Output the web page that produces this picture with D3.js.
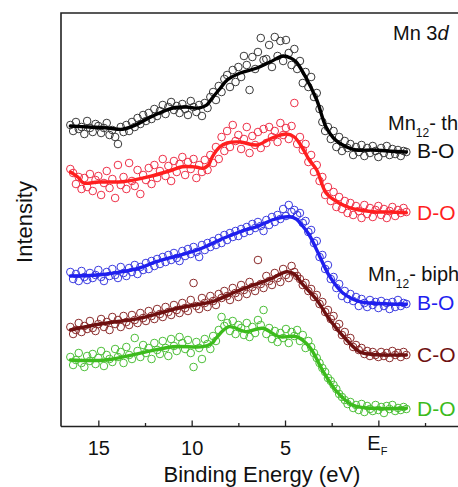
<!DOCTYPE html>
<html>
<head>
<meta charset="utf-8">
<script src="https://cdn.jsdelivr.net/npm/d3@7/dist/d3.min.js"></script>
<style>
  html, body { margin: 0; padding: 0; background: #fff; }
  svg { display: block; font-family: "Liberation Sans", Arial, Helvetica, sans-serif; }
</style>
</head>
<body>
<svg id="chart" width="458" height="487"></svg>
<script>
// Mn 3d valence-band photoemission spectra (intensity in arbitrary units, stacked).

// measured binding-energy grid (eV), 0.15 eV steps
const energies = d3.range(0, 121).map(i => +(16.5 - 0.15 * i).toFixed(2));

// raw counts per spectrum (offset for stacking)
const thBO = [
  302,296,305,298,300,293,306,299,295,303,
  301,294,299,304,292,297,290,283,300,295,
  302,296,305,300,309,303,312,306,314,308,
  318,311,316,322,313,320,325,317,321,314,
  323,318,312,326,320,315,322,311,324,319,
  330,335,327,341,335,348,352,340,357,345,
  360,350,371,362,337,370,358,375,389,367,
  368,382,360,390,371,386,366,387,374,362,
  378,358,366,344,355,340,350,330,334,318,
  305,296,300,288,296,280,290,276,286,279,
  283,272,280,275,282,271,279,274,281,276,
  270,279,274,281,272,278,273,277,271,276,275
];
const thDO = [
  258,254,243,250,238,249,240,253,236,247,
  251,232,244,256,239,248,229,262,242,250,
  238,264,246,241,257,233,252,247,259,243,
  262,249,256,268,251,261,246,266,255,263,
  270,252,265,258,268,249,262,255,267,257,
  272,264,280,268,290,276,296,280,302,286,
  292,278,288,300,274,291,282,295,279,298,
  284,300,290,296,285,304,292,299,288,301,
  324,283,290,277,283,265,272,255,262,246,
  250,232,240,226,235,220,230,218,226,214,
  224,212,221,216,209,222,213,219,210,217,
  221,212,218,209,216,220,211,217,214,219,215
];
const biBO = [
  155,148,153,146,156,150,147,154,149,152,
  157,150,146,155,151,158,152,149,160,154,
  151,159,155,162,153,160,157,164,158,166,
  161,168,163,170,165,172,167,174,169,166,
  176,171,178,173,180,175,170,182,177,184,
  180,186,182,189,184,192,187,194,190,196,
  191,198,194,200,196,203,199,205,201,196,
  207,202,210,205,212,208,218,211,222,215,
  217,212,214,204,206,195,197,184,186,170,
  172,158,162,148,150,139,143,131,136,128,
  133,126,130,121,128,124,120,127,122,125,
  119,126,121,124,118,125,120,127,121,124,123
];
const biCO = [
  100,93,97,104,95,101,98,106,99,96,
  103,108,100,105,97,110,103,107,100,111,
  105,102,112,107,104,114,109,106,116,111,
  108,118,113,110,120,115,112,122,117,114,
  124,119,116,127,144,121,118,129,124,120,
  131,126,122,133,129,136,131,127,139,134,
  130,142,137,133,145,140,136,167,143,139,
  151,146,142,154,149,145,158,152,149,161,
  155,151,148,142,144,136,138,130,132,123,
  125,115,117,108,111,100,103,92,95,86,
  89,80,82,77,79,73,76,71,75,72,
  70,75,71,74,69,76,72,74,70,75,72
];
const biDO = [
  70,62,67,74,64,60,71,66,73,63,
  69,76,61,72,68,65,78,70,75,64,
  80,72,68,89,76,70,82,74,79,68,
  84,77,73,86,79,71,88,81,76,90,
  84,78,87,74,60,85,79,68,88,83,
  78,91,86,97,110,101,104,96,106,93,
  102,99,92,104,90,100,94,107,102,117,
  93,99,88,96,85,94,89,98,84,95,
  91,97,86,92,79,86,80,74,69,64,
  59,55,49,46,42,38,33,30,27,23,
  25,19,22,17,23,15,21,18,16,22,
  17,20,14,21,18,22,16,19,17,20,18
];

// smoothed fits: [binding energy, intensity]
const fitThBO = [[16.5,301],[15.5,300],[14.5,299],[13.7,297.7],[13,302],[12.3,309],[11.6,315],[11,319],[10.3,320],[9.6,319],[9.2,322],[8.9,329],[8.5,338],[8.1,347],[7.4,354],[6.5,359],[5.8,365],[5.1,371],[4.7,369],[4.4,365],[3.9,350],[3.3,327],[2.8,300],[2.3,287],[1.7,280],[1.2,277],[0.3,277],[-0.5,276],[-1.5,275]];
const fitThDO = [[16.5,255],[16.1,250],[15.8,244],[15,245],[13.7,245.3],[12.3,250.3],[11.2,256],[10.5,260.3],[9.8,260],[9.4,258.7],[9.1,262],[8.9,270],[8.5,280],[8.1,284],[7.4,285],[6.5,282],[5.7,289],[4.9,293],[4.5,290],[4.1,280],[3.7,267],[3.3,257],[2.8,234],[2.1,224],[1.5,219],[1.0,217],[0.3,215.3],[-0.5,215],[-1.5,214.3]];
const fitBiBO = [[16.5,151],[15,152],[13.7,155.3],[12.8,159],[11.9,165.3],[10.8,171],[9.7,177],[8.3,188.7],[7.3,196],[6.5,200.3],[5.7,207],[4.8,210.3],[4.4,208],[4.1,202],[3.7,192],[3.3,177],[2.6,150.3],[1.9,134],[1.0,125.3],[0,123.5],[-1.5,122.7]];
const fitBiCO = [[16.5,97],[14.9,103],[12.8,108.7],[11.5,115],[10.7,119],[9.5,123],[8.9,125.3],[7.4,137],[5.7,148.7],[4.9,155.3],[4.5,153],[4.1,143.7],[3.3,127],[2.6,107],[1.7,87],[1.0,75.3],[0.3,72.5],[-1.5,72]];
const fitBiDO = [[16.5,67],[14.6,67],[12.8,73.7],[11.0,80.3],[9.4,80.3],[8.9,84],[8.7,88.7],[8.0,100.3],[7.1,95.3],[6.2,98.7],[5.3,90.3],[4.4,90.3],[3.7,80.3],[3.0,57],[2.3,37],[1.4,22],[0.3,18.7],[-1.5,18.7]];

const seriesNames = ["B-O", "D-O", "B-O", "C-O", "D-O"];
const seriesPoints = [thBO, thDO, biBO, biCO, biDO];
const seriesFits = [fitThBO, fitThDO, fitBiBO, fitBiCO, fitBiDO];
const seriesLine = ["#000000", "#ff1f1f", "#1f1fef", "#6e1010", "#3cbb1c"];
const seriesDot  = ["#3a3a3a", "#ee3048", "#3a3ae0", "#8a2a2a", "#4cbf38"];
const seriesText = ["#111111", "#ff1f1f", "#1f1fef", "#6e1010", "#3cbb1c"];

const majorTicks = [15, 10, 5, 0];
const minorTicks = [12.5, 7.5, 2.5, -2.5];

const svg = d3.select("#chart");
const W = 458, H = 487;
const plotLeft = 61, plotTop = 13, axisY = 426.5;

const x = d3.scaleLinear().domain([17, -5]).range([plotLeft, 471.7]);
const y = d3.scaleLinear().domain([0, 414]).range([427, 13]);

// frame: left and top borders
svg.append("path")
  .attr("d", `M${plotLeft},${axisY}V${plotTop}H${W}`)
  .attr("fill", "none").attr("stroke", "#222").attr("stroke-width", 1.6);

// bottom axis with inward ticks
const axis = svg.append("g").attr("transform", `translate(0,${axisY})`)
  .call(d3.axisBottom(x).tickValues(majorTicks).tickSize(-6).tickPadding(14)
    .tickFormat(d => d === 0 ? "" : d3.format("d")(d)));
axis.select(".domain").attr("stroke", "#222").attr("stroke-width", 1.6)
  .attr("d", `M${plotLeft},0H${W + 20}`);
axis.selectAll(".tick line").attr("stroke", "#222").attr("stroke-width", 1.3);
axis.selectAll(".tick text").attr("font-size", 20).attr("fill", "#111")
  .attr("font-family", "Liberation Sans, Arial, sans-serif");

const minor = svg.append("g").attr("transform", `translate(0,${axisY})`)
  .call(d3.axisBottom(x).tickValues(minorTicks).tickSize(-3.5).tickFormat(""));
minor.select(".domain").remove();
minor.selectAll(".tick line").attr("stroke", "#222").attr("stroke-width", 1.3);

// Fermi level label
const ef = svg.append("text").attr("x", x(0) - 1).attr("y", 450)
  .attr("text-anchor", "middle").attr("font-size", 20).attr("fill", "#111");
ef.append("tspan").text("E");
ef.append("tspan").attr("font-size", 11).attr("dy", 5).text("F");

// spectra
const line = d3.line().x(d => x(d[0])).y(d => y(d[1])).curve(d3.curveCatmullRom.alpha(0.5));

seriesPoints.forEach((vals, k) => {
  const g = svg.append("g");
  g.selectAll("circle").data(vals).join("circle")
    .attr("cx", (v, i) => x(energies[i]))
    .attr("cy", v => y(v))
    .attr("r", 3.8)
    .attr("fill", "none")
    .attr("stroke", seriesDot[k])
    .attr("stroke-width", 1);
  g.append("path").datum(seriesFits[k])
    .attr("d", line)
    .attr("fill", "none")
    .attr("stroke", seriesLine[k])
    .attr("stroke-width", 3.4)
    .attr("stroke-linejoin", "round")
    .attr("stroke-linecap", "round");
});

// series labels at the right end of each spectrum
const labelY = [158, 220, 310, 362, 416];
seriesNames.forEach((name, k) => {
  svg.append("text").attr("x", 417).attr("y", labelY[k])
    .attr("font-size", 21).attr("fill", seriesText[k])
    .text(name);
});

// group headings
const t1 = svg.append("text").attr("x", 393).attr("y", 40).attr("font-size", 20).attr("fill", "#111");
t1.append("tspan").text("Mn 3");
t1.append("tspan").attr("font-style", "italic").text("d");

function molLabel(xp, yp, tail) {
  const t = svg.append("text").attr("x", xp).attr("y", yp).attr("font-size", 20).attr("fill", "#111");
  t.append("tspan").text("Mn");
  t.append("tspan").attr("font-size", 12).attr("dy", 7).text("12");
  t.append("tspan").attr("dy", -7).text("- " + tail);
}
molLabel(388, 130, "th");
molLabel(368, 281, "biph");

// axis titles
svg.append("text").attr("x", 262).attr("y", 482).attr("text-anchor", "middle")
  .attr("font-size", 22).attr("fill", "#111").text("Binding Energy (eV)");
svg.append("text").attr("transform", "translate(32,222) rotate(-90)")
  .attr("text-anchor", "middle").attr("font-size", 22).attr("fill", "#111").text("Intensity");
</script>
</body>
</html>
